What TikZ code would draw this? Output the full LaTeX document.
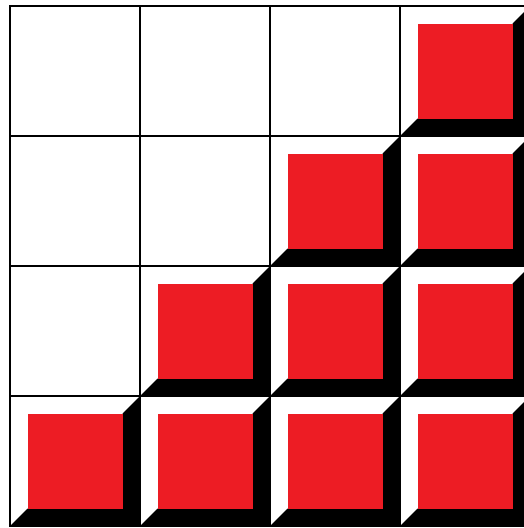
\documentclass[tikz,border=0pt]{standalone}
\definecolor{cellred}{HTML}{ED1C24}
\tikzset{
  shade/.style={fill=black},
  redsq/.style={fill=cellred},
  gridline/.style={draw=black,line width=1.3pt},
  frameline/.style={draw=black,line width=2.4pt}
}
\begin{document}
\begin{tikzpicture}[x=1pt,y=-1pt]
\useasboundingbox (0,0) rectangle (524,528);
\clip (0,0) rectangle (524,528);
\fill[white] (0,0) rectangle (524,528);
% filled cells: (col,row)
\foreach \c/\r in {3/0, 2/1, 3/1, 1/2, 2/2, 3/2, 0/3, 1/3, 2/3, 3/3}{
  \pgfmathsetmacro{\x}{10+130*\c}
  \pgfmathsetmacro{\y}{6+130*\r}
  \fill[shade] (\x+130,\y) -- (\x+130,\y+130) -- (\x,\y+130) -- (\x+17.5,\y+112.5)
     -- (\x+112.5,\y+112.5) -- (\x+112.5,\y+17.5) -- cycle;
  \fill[redsq] (\x+17.5,\y+17.5) rectangle (\x+112.5,\y+112.5);
}
% grid
\foreach \i in {1,2,3}{
  \draw[gridline] (10+130*\i,6) -- (10+130*\i,526);
  \draw[gridline] (10,6+130*\i) -- (530,6+130*\i);
}
\draw[frameline] (10,6) rectangle (530,526);
\end{tikzpicture}
\end{document}
